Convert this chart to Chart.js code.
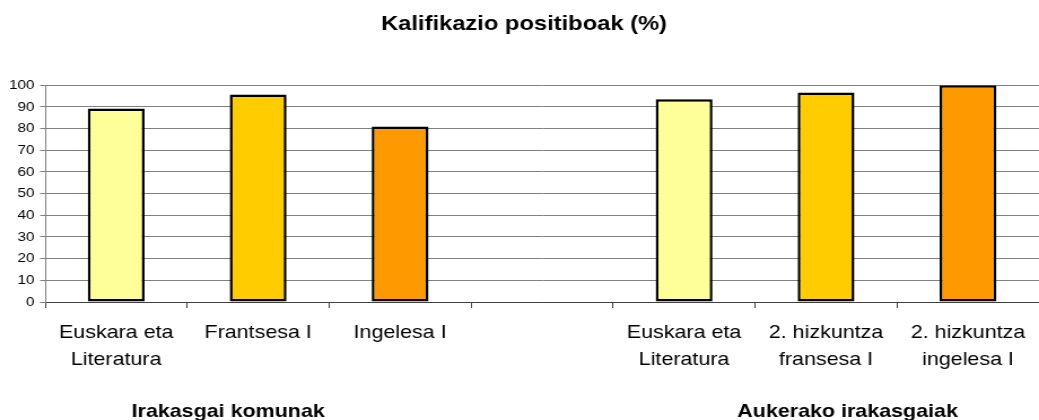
<!DOCTYPE html>
<html>
<head>
<meta charset="utf-8">
<title>Kalifikazio positiboak</title>
<script src="https://cdn.jsdelivr.net/npm/chart.js@4/dist/chart.umd.min.js"></script>
<style>
  html, body { margin: 0; padding: 0; background: #fff; overflow: hidden; }
  /* chart is drawn a bit narrower and widened to the full 1039px */
  #wrap {
    width: 920px;
    height: 420px;
    position: relative;
    transform: scaleX(1.12935);
    transform-origin: 0 0;
  }
</style>
</head>
<body>
<div id="wrap"><canvas id="chart"></canvas></div>
<script>
'use strict';

// Subjects; the empty slot separates the two groups
const subjects = [
  ['Euskara eta', 'Literatura'],
  'Frantsesa I',
  'Ingelesa I',
  '',
  ['Euskara eta', 'Literatura'],
  ['2. hizkuntza', 'fransesa I'],
  ['2. hizkuntza', 'ingelesa I'],
];

// Share of passing grades (%)
const positivePct = [89.3, 95.7, 81, null, 93.5, 96.6, 100];

const barColors = ['#FFFF99', '#FFCC00', '#FF9900', '#FFFFFF', '#FFFF99', '#FFCC00', '#FF9900'];

const yTicks = [0, 10, 20, 30, 40, 50, 60, 70, 80, 90, 100];

const groupNames = ['Irakasgai komunak', 'Aukerako irakasgaiak'];

const FONT = "'Liberation Sans', Arial, sans-serif";
Chart.defaults.font.family = FONT;
Chart.defaults.color = '#000';

// Group captions under the category labels
const groupCaptions = {
  id: 'groupCaptions',
  afterDraw(chart) {
    const ctx = chart.ctx;
    const xs = [202, 750.5];
    ctx.save();
    ctx.font = 'bold 19px ' + FONT;
    ctx.fillStyle = '#000';
    ctx.textAlign = 'center';
    ctx.textBaseline = 'middle';
    groupNames.forEach((name, i) => ctx.fillText(name, xs[i], 411.5));
    ctx.restore();
  },
};

const ctx = document.getElementById('chart').getContext('2d');

new Chart(ctx, {
  type: 'bar',
  data: {
    labels: subjects,
    datasets: [{
      data: positivePct,
      backgroundColor: barColors,
      borderColor: '#000',
      borderWidth: 2.5,
      borderSkipped: false,
      categoryPercentage: 1,
      barPercentage: 0.4,
    }],
  },
  options: {
    responsive: true,
    maintainAspectRatio: false,
    animation: false,
    layout: { padding: { left: 8 } },
    plugins: {
      legend: { display: false },
      tooltip: { enabled: false },
      title: {
        display: true,
        text: 'Kalifikazio positiboak (%)',
        color: '#000',
        font: { size: 21, weight: 'bold' },
        padding: { top: 12, bottom: 48 },
      },
    },
    scales: {
      x: {
        grid: {
          offset: true,
          drawOnChartArea: false,
          drawTicks: true,
          tickLength: 6,
          color: '#404040',
        },
        border: { color: '#404040', width: 1 },
        ticks: {
          color: '#000',
          font: { size: 19, lineHeight: 1.42 },
          padding: 11.5,
          maxRotation: 0,
          autoSkip: false,
        },
        afterFit: (scale) => { scale.height = 118; },
      },
      y: {
        min: 0,
        max: 100,
        afterBuildTicks: (scale) => { scale.ticks = yTicks.map(v => ({ value: v })); },
        grid: {
          color: '#808080',
          tickLength: 4.5,
        },
        border: { color: '#808080' },
        ticks: {
          color: '#000',
          font: { size: 13.5 },
          padding: 5,
        },
        afterFit: (scale) => { scale.width = 32; },
      },
    },
  },
  plugins: [groupCaptions],
});
</script>
</body>
</html>
